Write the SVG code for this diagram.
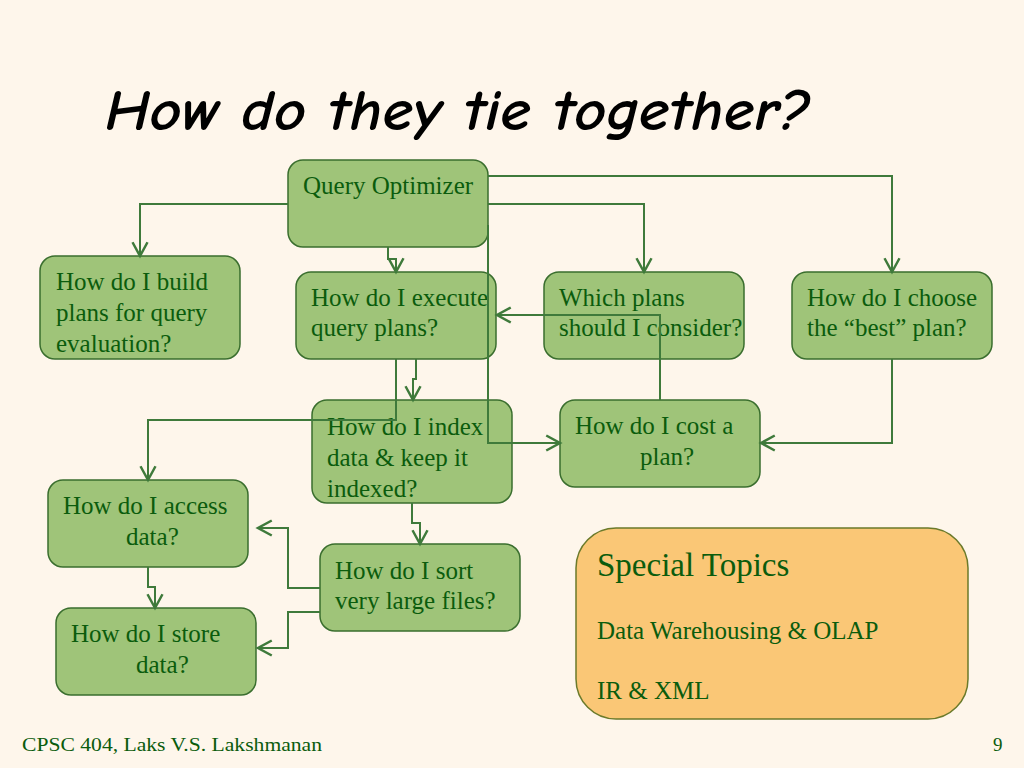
<svg xmlns="http://www.w3.org/2000/svg" width="1024" height="768" viewBox="0 0 1024 768">
<style>
.box{fill:#9fc479;stroke:#3a6e2e;stroke-width:1.5}
.t{font-family:"Liberation Serif","Times New Roman",serif;font-size:25px;fill:#0b5c0d}
.big{font-size:33px}
.c{fill:none;stroke:#3f7a3b;stroke-width:2;marker-end:url(#ah)}
</style>
<defs>
<marker id="ah" markerUnits="userSpaceOnUse" markerWidth="20" markerHeight="20" refX="0" refY="0" viewBox="-12 -8 14 16" orient="auto" overflow="visible">
<path d="M-11,-6 L0,0 L-11,6" fill="none" stroke="#3f7a3b" stroke-width="2"/>
</marker>
</defs>
<rect x="0" y="0" width="1024" height="768" fill="#fef6eb"/>
<text x="105" y="130" font-family="'Comic Neue','Open Sans','DejaVu Sans',sans-serif" font-style="italic" font-weight="bold" font-size="58" fill="#000" textLength="705" lengthAdjust="spacingAndGlyphs">How do they tie together?</text>

<g id="n-optimizer"><rect class="box" x="288" y="160" width="200" height="87" rx="15"/><text class="t" x="303" y="194">Query Optimizer</text></g>
<g id="n-build"><rect class="box" x="40" y="256" width="200" height="103" rx="15"/><text class="t" x="56" y="290">How do I build</text><text class="t" x="56" y="321">plans for query</text><text class="t" x="56" y="352">evaluation?</text></g>
<g id="n-execute"><rect class="box" x="296" y="272" width="200" height="87" rx="15"/><text class="t" x="311" y="306">How do I execute</text><text class="t" x="311" y="336">query plans?</text></g>
<g id="n-which"><rect class="box" x="544" y="272" width="200" height="87" rx="15"/><text class="t" x="559" y="306">Which plans</text><text class="t" x="559" y="336">should I consider?</text></g>
<g id="n-best"><rect class="box" x="792" y="272" width="200" height="87" rx="15"/><text class="t" x="807" y="306">How do I choose</text><text class="t" x="807" y="336">the “best” plan?</text></g>
<g id="n-index"><rect class="box" x="312" y="400" width="200" height="103" rx="15"/><text class="t" x="327" y="435">How do I index</text><text class="t" x="327" y="466">data &amp; keep it</text><text class="t" x="327" y="497">indexed?</text></g>
<g id="n-cost"><rect class="box" x="560" y="400" width="200" height="87" rx="15"/><text class="t" x="575" y="434">How do I cost a</text><text class="t" x="640" y="465">plan?</text></g>
<g id="n-access"><rect class="box" x="48" y="480" width="200" height="87" rx="15"/><text class="t" x="63" y="514">How do I access</text><text class="t" x="126" y="545">data?</text></g>
<g id="n-sort"><rect class="box" x="320" y="544" width="200" height="87" rx="15"/><text class="t" x="335" y="579">How do I sort</text><text class="t" x="335" y="609">very large files?</text></g>
<g id="n-store"><rect class="box" x="56" y="608" width="200" height="87" rx="15"/><text class="t" x="71" y="642">How do I store</text><text class="t" x="136" y="673">data?</text></g>
<g id="n-special"><rect x="576" y="528" width="392" height="191" rx="40" fill="#fac776" stroke="#6b7a2a" stroke-width="1.5"/><text class="t big" x="597" y="576">Special Topics</text><text class="t" x="597" y="639">Data Warehousing &amp; OLAP</text><text class="t" x="597" y="699">IR &amp; XML</text></g>

<g id="connectors">
<path class="c" d="M288,204 H140 V256"/>
<path class="c" d="M388,247 V259 H396 V272"/>
<path class="c" d="M488,176 H892 V272"/>
<path class="c" d="M488,204 H644 V272"/>
<path class="c" d="M488,225 V443 H560"/>
<path class="c" d="M660,400 V315 H497"/>
<path class="c" d="M892,359 V443 H761"/>
<path class="c" d="M396,359 V420 H148 V480"/>
<path class="c" d="M416,359 V379 H413 V400"/>
<path class="c" d="M412,503 V523 H420 V544"/>
<path class="c" d="M320,588 H288 V528 H258"/>
<path class="c" d="M320,612 H288 V648 H258"/>
<path class="c" d="M148,567 V587 H155 V608"/>
</g>

<text x="22" y="751" font-family="'Liberation Serif',serif" font-size="19" fill="#0b5c0d" textLength="300" lengthAdjust="spacingAndGlyphs">CPSC 404,  Laks V.S. Lakshmanan</text>
<text x="993" y="751" font-family="'Liberation Serif',serif" font-size="19" fill="#0b5c0d">9</text>
</svg>
